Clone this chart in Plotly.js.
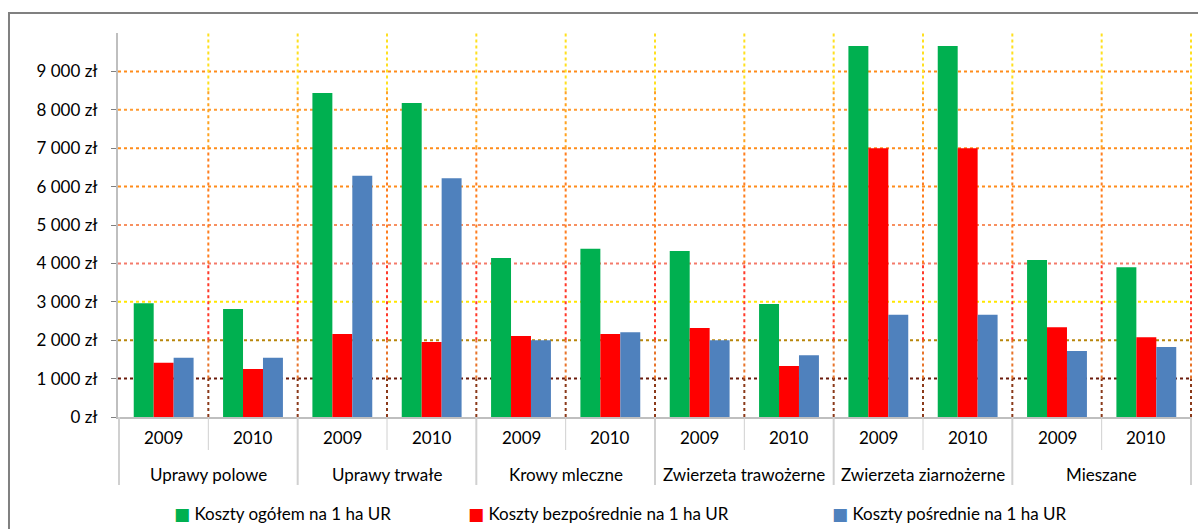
<!DOCTYPE html>
<html>
<head>
<meta charset="utf-8">
<script src="https://cdn.plot.ly/plotly-3.0.1.min.js"></script>
<style>
  html, body { margin: 0; padding: 0; background: #fff; }
  #chart { width: 1198px; height: 529px; }
</style>
</head>
<body>
<div id="chart"></div>
<script>
// kategorie (typ gospodarstwa / rok)
const groups = ["Uprawy polowe", "Uprawy trwałe", "Krowy mleczne",
  "Zwierzeta trawożerne", "Zwierzeta ziarnożerne", "Mieszane"];
const years = ["2009", "2010"];

// wartości w zł, kolejno: grupa x rok
const kosztyOgolem = [2960, 2810, 8440, 8180, 4140, 4380, 4320, 2940, 9660, 9660, 4090, 3900];
const kosztyBezposrednie = [1410, 1250, 2160, 1950, 2110, 2160, 2320, 1330, 7000, 7000, 2340, 2080];
const kosztyPosrednie = [1540, 1540, 6280, 6220, 2000, 2210, 2000, 1610, 2660, 2660, 1720, 1820];

const seriesNames = ["Koszty ogółem na 1 ha UR", "Koszty bezpośrednie na 1 ha UR", "Koszty pośrednie na 1 ha UR"];
const seriesColors = ["#00B050", "#FF0000", "#4F81BD"];

const yTicks = [0, 1000, 2000, 3000, 4000, 5000, 6000, 7000, 8000, 9000];
// kolory poziomych linii siatki (jak w excelu, każda inna)
const gridColors = ["#bfbfbf", "#6B1A0A", "#B8860B", "#FFE600", "#F47A6A", "#F79060",
  "#FF8C1A", "#FF8C1A", "#FF9A30", "#FF8C1A"];

const FONT = "Lato, 'DejaVu Sans', sans-serif";
const FS = 17;

// "9 000 zł"
const fmtZl = v => String(v).replace(/\B(?=(\d{3})+(?!\d))/g, " ") + " zł";

// oś x wielopoziomowa
const xGroup = [], xYear = [];
groups.forEach(g => years.forEach(y => { xGroup.push(g); xYear.push(y); }));

const values = [kosztyOgolem, kosztyBezposrednie, kosztyPosrednie];
const traces = values.map((v, i) => ({
  type: "bar",
  x: [xGroup, xYear],
  y: v,
  name: seriesNames[i],
  marker: { color: seriesColors[i] },
  showlegend: false,
  hoverinfo: "skip",
}));

const shapes = [];
const annotations = [];

// poziome linie siatki
yTicks.forEach((t, i) => {
  if (t === 0) return;
  shapes.push({
    type: "line", layer: "below",
    xref: "paper", x0: 0, x1: 1,
    yref: "y", y0: t, y1: t,
    line: { color: gridColors[i], width: 2, dash: "dot" },
  });
});

// pionowe linie - gradient od żółtego (góra) do brązowego (dół)
const vSegments = [
  [0, 1000, "#8B3A1A"],
  [1000, 2000, "#E8742A"],
  [2000, 4000, "#FF3A2A"],
  [4000, 7000, "#FF7F20"],
  [7000, 8500, "#FFA320"],
  [8500, 10000, "#FFE020"],
];
for (let k = 1; k <= xGroup.length; k++) {
  vSegments.forEach(s => {
    shapes.push({
      type: "line", layer: "below",
      xref: "x", x0: k - 0.5, x1: k - 0.5,
      yref: "y", y0: s[0], y1: s[1],
      line: { color: s[2], width: 2, dash: "dot" },
    });
  });
}

// etykiety osi x: lata i grupy + separatory
for (let k = 0; k <= xGroup.length; k++) {
  const groupEdge = k % years.length === 0;
  shapes.push({
    type: "line",
    xref: "x", x0: k - 0.5, x1: k - 0.5,
    yref: "paper", y0: 0, y1: groupEdge ? -0.177 : -0.086,
    line: { color: "#d0d0d0", width: groupEdge ? 2 : 1 },
  });
}
xYear.forEach((y, i) => {
  annotations.push({
    xref: "x", yref: "paper", x: i, y: -0.054,
    xanchor: "center", yanchor: "middle", showarrow: false,
    text: y, font: { family: FONT, size: FS, color: "#000" },
  });
});
groups.forEach((g, i) => {
  annotations.push({
    xref: "x", yref: "paper", x: i * years.length + 0.5, y: -0.151,
    xanchor: "center", yanchor: "middle", showarrow: false,
    text: g, font: { family: FONT, size: FS, color: "#000" },
  });
});

// ramka wykresu
shapes.push({
  type: "rect", layer: "below",
  xref: "paper", x0: -0.1015, x1: 1.05,
  yref: "paper", y0: -0.35, y1: 1.052,
  line: { color: "#808080", width: 2 },
  fillcolor: "rgba(0,0,0,0)",
});

// legenda jako adnotacje
const legendX = [0.050, 0.324, 0.663];
seriesNames.forEach((n, i) => annotations.push({
  xref: "paper", yref: "paper",
  x: legendX[i], y: -0.25,
  xanchor: "left", yanchor: "middle",
  showarrow: false,
  text: `<span style="color:${seriesColors[i]}">■</span> ${n}`,
  font: { family: FONT, size: FS, color: "#000" },
}));

const layout = {
  width: 1198, height: 529,
  margin: { l: 118, r: 6, t: 33, b: 112 },
  paper_bgcolor: "#fff",
  plot_bgcolor: "#fff",
  barmode: "group",
  bargap: 0.33,
  bargroupgap: 0,
  showlegend: false,
  font: { family: FONT, size: FS, color: "#000" },
  xaxis: {
    type: "multicategory",
    showticklabels: false,
    ticks: "",
    showdividers: false,
    showline: true, linecolor: "#bfbfbf", linewidth: 2,
    showgrid: false,
  },
  yaxis: {
    range: [0, 10000],
    tickvals: yTicks,
    ticktext: yTicks.map(fmtZl),
    ticks: "outside", ticklen: 5, tickcolor: "#808080",
    ticklabelstandoff: 10,
    showline: true, linecolor: "#bfbfbf", linewidth: 2,
    showgrid: false, zeroline: false,
    tickfont: { family: FONT, size: FS, color: "#000" },
  },
  shapes: shapes,
  annotations: annotations,
};

Plotly.newPlot("chart", traces, layout, { displayModeBar: false, staticPlot: true });
</script>
</body>
</html>
